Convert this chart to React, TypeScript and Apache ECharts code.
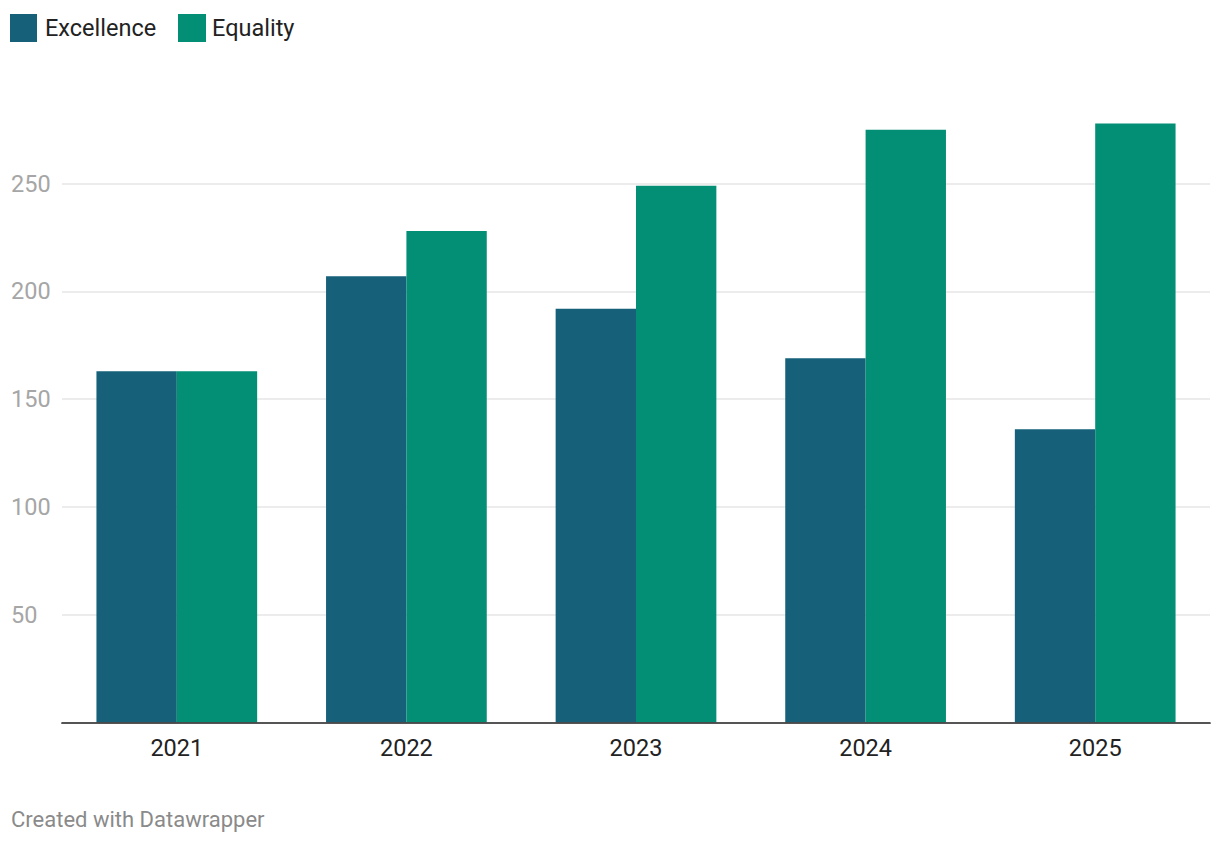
import React, { useEffect, useRef } from "react";
import * as echarts from "echarts";

const categories = ["2021", "2022", "2023", "2024", "2025"];
const excellence = [163, 207, 192, 169, 136];
const equality = [163, 228, 249, 275, 278];
const seriesNames = ["Excellence", "Equality"];
const footerText = "Created with Datawrapper";

const FONT = "Roboto, 'Noto Sans', sans-serif";

export default function App() {
  const ref = useRef<HTMLDivElement>(null);
  useEffect(() => {
    document.body.style.margin = "0";
    const chart = echarts.init(ref.current!, null, { renderer: "svg" });
    chart.setOption({
      animation: false,
      textStyle: { fontFamily: FONT },
      color: ["#16607a", "#028f76"],
      legend: [
        {
          data: [seriesNames[0]],
          left: 10,
          top: 14,
          padding: 0,
          itemWidth: 27,
          itemHeight: 28,
          icon: "rect",
          textStyle: { fontSize: 23.5, color: "#222", fontFamily: FONT, padding: [0, 0, 0, 3] },
        },
        {
          data: [seriesNames[1]],
          left: 178,
          top: 14,
          padding: 0,
          itemWidth: 28,
          itemHeight: 28,
          icon: "rect",
          textStyle: { fontSize: 23.5, color: "#222", fontFamily: FONT, padding: [0, 0, 0, 1] },
        },
      ],
      grid: { left: 62, right: 10, top: 76, bottom: 121.7, containLabel: false },
      xAxis: {
        type: "category",
        data: categories,
        axisLine: { show: true, lineStyle: { color: "#1d1d1d", width: 1.7 } },
        axisTick: { show: false },
        axisLabel: { fontSize: 23.5, color: "#222", margin: 14, fontFamily: FONT },
        z: 10,
      },
      yAxis: {
        type: "value",
        min: 0,
        max: 300,
        interval: 50,
        axisLine: { show: false },
        axisTick: { show: false },
        axisLabel: {
          fontSize: 23.5,
          color: "#a6a6a6",
          align: "left",
          margin: 51,
          showMinLabel: false,
          showMaxLabel: false,
          fontFamily: FONT,
        },
        splitLine: {
          show: true,
          showMinLine: false,
          showMaxLine: false,
          lineStyle: { color: "#e6e6e6", width: 1.7 },
        },
      },
      series: [
        {
          name: seriesNames[0],
          type: "bar",
          data: excellence,
          barGap: "0%",
          barCategoryGap: "30%",
        },
        {
          name: seriesNames[1],
          type: "bar",
          data: equality,
          barGap: "0%",
          barCategoryGap: "30%",
        },
      ],
      graphic: [
        {
          type: "text",
          left: 11,
          top: 808,
          style: { text: footerText, fontSize: 22, fill: "#8a8a8a", fontFamily: FONT },
        },
      ],
    });
    return () => chart.dispose();
  }, []);
  return <div ref={ref} style={{ width: 1220, height: 844 }} />;
}
